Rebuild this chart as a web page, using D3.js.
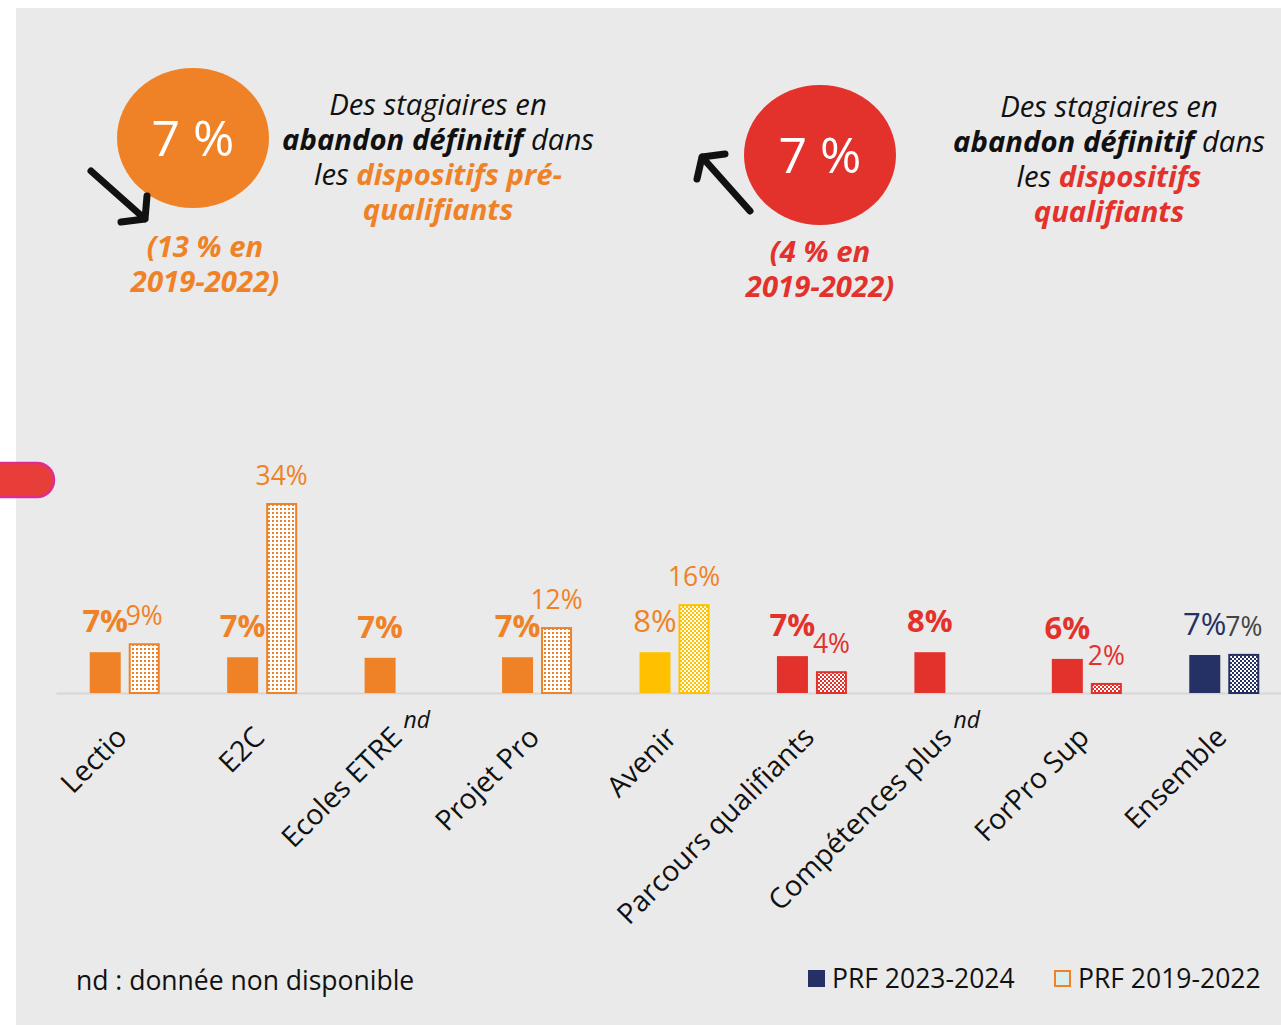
<!DOCTYPE html>
<html lang="fr">
<head>
<meta charset="UTF-8">
<script src="https://d3js.org/d3.v7.min.js"></script>
<style>
  body { margin: 0; background: #fff; font-family: 'Open Sans', Arial, sans-serif; }
  svg { display: block; }
</style>
</head>
<body>
<svg id="chart" width="1281" height="1025"></svg>
<script>
// --- data ---
const categories = ["Lectio", "E2C", "Ecoles ETRE", "Projet Pro", "Avenir",
  "Parcours qualifiants", "Compétences plus", "ForPro Sup", "Ensemble"];
const notAvailable = ["Ecoles ETRE", "Compétences plus"];
const values2023 = [7.3, 6.4, 6.3, 6.4, 7.3, 6.6, 7.3, 6.1, 6.8];
const values2019 = [8.9, 34, null, 11.8, 15.9, 3.9, null, 1.8, 7.0];
const labels2023 = ["7%", "7%", "7%", "7%", "8%", "7%", "8%", "6%", "7%"];
const labels2019 = ["9%", "34%", "", "12%", "16%", "4%", "", "2%", "7%"];
const families = ["pre", "pre", "pre", "pre", "avenir", "qual", "qual", "qual", "all"];
const seriesNames = ["PRF 2023-2024", "PRF 2019-2022"];

const ORANGE = "#EF8227", YELLOW = "#FFC000", RED = "#E3312C", NAVY = "#253065";
const barColor = d3.scaleOrdinal(["pre", "avenir", "qual", "all"], [ORANGE, YELLOW, RED, NAVY]);
const labelColor = d3.scaleOrdinal(["pre", "avenir", "qual", "all"], [ORANGE, ORANGE, RED, NAVY]);

const svg = d3.select("#chart");

// background panel
svg.append("rect").attr("x", 16).attr("y", 8).attr("width", 1270).attr("height", 1020).attr("fill", "#EAEAEA");

// red tab on the left edge
svg.append("path")
  .attr("d", "M-10,463 H37 A17,17 0 0 1 37,497 H-10 Z")
  .attr("fill", "#E83E3A").attr("stroke", "#DE2D92").attr("stroke-width", 2.5);

// patterns for the 2019-2022 bars
const defs = svg.append("defs");
function checker(id, color) {
  const p = defs.append("pattern").attr("id", id).attr("patternUnits", "userSpaceOnUse")
    .attr("width", 4).attr("height", 4);
  p.append("rect").attr("width", 4).attr("height", 4).attr("fill", "#fff");
  p.append("rect").attr("x", 0).attr("y", 0).attr("width", 2).attr("height", 2).attr("fill", color);
  p.append("rect").attr("x", 2).attr("y", 2).attr("width", 2).attr("height", 2).attr("fill", color);
}
function dots(id, color) {
  const p = defs.append("pattern").attr("id", id).attr("patternUnits", "userSpaceOnUse")
    .attr("width", 4).attr("height", 4);
  p.append("rect").attr("width", 4).attr("height", 4).attr("fill", "#fff");
  p.append("rect").attr("x", 0).attr("y", 0).attr("width", 2).attr("height", 2).attr("fill", color);
}
dots("pat-pre", ORANGE);
checker("pat-avenir", YELLOW);
checker("pat-qual", RED);
checker("pat-all", NAVY);

// --- scales ---
const baseline = 693;
const x = d3.scaleBand().domain(categories).range([56, 1293]);
const xs = d3.scaleBand().domain(seriesNames).range([0, 70]).paddingInner(8 / 39);
const groupLeft = c => x(c) + x.bandwidth() / 2 - 35;
const y = d3.scaleLinear().domain([0, 34]).range([baseline, 503]);

const rows = categories.map((c, i) => ({
  cat: c, fam: families[i], v1: values2023[i], v2: values2019[i], l1: labels2023[i], l2: labels2019[i]
}));

// axis
const axis = svg.append("g").attr("transform", `translate(0,${baseline})`)
  .call(d3.axisBottom(x).tickSize(0).tickPadding(0));
axis.select(".domain").attr("stroke", "#D6D6D6").attr("stroke-width", 2);
axis.selectAll(".tick text")
  .attr("font-family", "'Open Sans', sans-serif").attr("font-size", 28.5).attr("fill", "#111")
  .attr("text-anchor", "end").attr("y", 0).attr("dy", 0)
  .attr("transform", "translate(4,46) rotate(-45)");
axis.selectAll(".tick").filter(d => notAvailable.includes(d)).append("text")
  .attr("x", 4).attr("y", 35).attr("text-anchor", "start")
  .attr("font-family", "'Open Sans', sans-serif").attr("font-size", 23).attr("font-style", "italic")
  .attr("fill", "#111").text("nd");

// bars 2023-2024
const g = svg.append("g");
g.selectAll(".bar-new").data(rows).join("rect")
  .attr("x", d => groupLeft(d.cat) + xs(seriesNames[0]))
  .attr("width", xs.bandwidth())
  .attr("y", d => y(d.v1)).attr("height", d => baseline - y(d.v1))
  .attr("fill", d => barColor(d.fam));

// bars 2019-2022
const old = rows.filter(d => d.v2 != null);
g.selectAll(".bar-old").data(old).join("rect")
  .attr("x", d => groupLeft(d.cat) + xs(seriesNames[1]) + 1)
  .attr("width", xs.bandwidth() - 2)
  .attr("y", d => y(d.v2) + 1).attr("height", d => baseline - y(d.v2) - 1)
  .attr("fill", d => `url(#pat-${d.fam})`)
  .attr("stroke", d => barColor(d.fam)).attr("stroke-width", 2);

// value labels
g.selectAll(".lab-new").data(rows).join("text")
  .attr("x", d => groupLeft(d.cat) + xs(seriesNames[0]) + xs.bandwidth() / 2)
  .attr("y", d => y(d.v1) - 20)
  .attr("text-anchor", "middle")
  .attr("font-size", 31)
  .attr("font-weight", d => (d.fam === "pre" || d.fam === "qual") ? 700 : 400)
  .attr("fill", d => labelColor(d.fam))
  .text(d => d.l1);
g.selectAll(".lab-old").data(old).join("text")
  .attr("x", d => groupLeft(d.cat) + xs(seriesNames[1]) + xs.bandwidth() / 2)
  .attr("y", d => y(d.v2) - 18)
  .attr("text-anchor", "middle")
  .attr("font-size", 26.5)
  .attr("fill", d => d.fam === "all" ? "#444" : labelColor(d.fam))
  .text(d => d.l2);

// --- top summary panels ---
function bubble(cx, cy, color) {
  svg.append("ellipse").attr("cx", cx).attr("cy", cy).attr("rx", 76).attr("ry", 70).attr("fill", color);
  svg.append("text").attr("x", cx).attr("y", cy + 18).attr("text-anchor", "middle")
    .attr("font-size", 50).attr("fill", "#fff").text("7 %");
}
bubble(193, 138, ORANGE);
bubble(820, 155, RED);

const arrow = d3.line();
svg.append("path").attr("d", arrow([[91, 171], [145, 219]]) + arrow([[147, 196], [145, 219], [121, 222]]))
  .attr("fill", "none").attr("stroke", "#111").attr("stroke-width", 7)
  .attr("stroke-linecap", "round").attr("stroke-linejoin", "round");
svg.append("path").attr("d", arrow([[750, 211], [702, 157]]) + arrow([[697, 179], [702, 157], [725, 154]]))
  .attr("fill", "none").attr("stroke", "#111").attr("stroke-width", 7)
  .attr("stroke-linecap", "round").attr("stroke-linejoin", "round");

function caption(cx, y0, color, lastLines) {
  const t = svg.append("g").attr("font-size", 29.3).attr("font-style", "italic").attr("fill", "#111");
  t.append("text").attr("x", cx).attr("y", y0).attr("text-anchor", "middle").text("Des stagiaires en");
  const l2 = t.append("text").attr("x", cx).attr("y", y0 + 35).attr("text-anchor", "middle");
  l2.append("tspan").attr("font-weight", 700).text("abandon définitif");
  l2.append("tspan").text(" dans");
  const l3 = t.append("text").attr("x", cx).attr("y", y0 + 70).attr("text-anchor", "middle");
  l3.append("tspan").text("les ");
  l3.append("tspan").attr("font-weight", 700).attr("fill", color).text(lastLines[0]);
  t.append("text").attr("x", cx).attr("y", y0 + 105).attr("text-anchor", "middle")
    .attr("font-weight", 700).attr("fill", color).text(lastLines[1]);
}
caption(438, 115, ORANGE, ["dispositifs pré-", "qualifiants"]);
caption(1109, 117, RED, ["dispositifs", "qualifiants"]);

function before(cx, y0, color, lines) {
  lines.forEach((s, i) => svg.append("text").attr("x", cx).attr("y", y0 + i * 35)
    .attr("text-anchor", "middle").attr("font-size", 29.3).attr("font-weight", 700)
    .attr("font-style", "italic").attr("fill", color).text(s));
}
before(205, 257, ORANGE, ["(13 % en", "2019-2022)"]);
before(820, 262, RED, ["(4 % en", "2019-2022)"]);

// footnote and legend
svg.append("text").attr("x", 76).attr("y", 990).attr("font-size", 26.5).attr("fill", "#111")
  .text("nd : donnée non disponible");
const legend = svg.append("g").attr("font-size", 26.5).attr("fill", "#111");
legend.append("rect").attr("x", 808).attr("y", 970).attr("width", 17).attr("height", 17).attr("fill", NAVY);
legend.append("text").attr("x", 832).attr("y", 988).text(seriesNames[0]);
legend.append("rect").attr("x", 1055).attr("y", 971).attr("width", 15).attr("height", 15)
  .attr("fill", "#DCEEEC").attr("stroke", ORANGE).attr("stroke-width", 2);
legend.append("text").attr("x", 1078).attr("y", 988).text(seriesNames[1]);
</script>
</body>
</html>
